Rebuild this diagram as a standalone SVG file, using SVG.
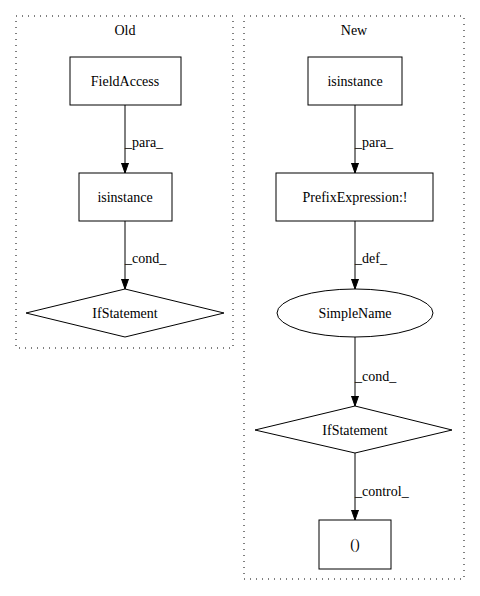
<svg xmlns="http://www.w3.org/2000/svg" width="480" height="596" viewBox="0 0 480 596">
<defs>
<marker id="ah" markerWidth="10" markerHeight="10" refX="10" refY="5" orient="auto" markerUnits="userSpaceOnUse">
<path d="M0,1.5 L10,5 L0,8.5 Z" fill="#000" stroke="#000"/>
</marker>
<style>
text{font-family:"Liberation Serif","Times New Roman",serif;font-size:14px;fill:#000}
.c{text-anchor:middle}
.n{fill:#fff;stroke:#000;stroke-width:1}
.cl{fill:none;stroke:#000;stroke-width:1;stroke-dasharray:1,5}
.e{fill:none;stroke:#000;stroke-width:1;marker-end:url(#ah)}
</style>
</defs>
<rect width="480" height="596" fill="#fff"/>
<g id="cluster_old">
<rect class="cl" x="16" y="16" width="217" height="332"/>
<text class="c" x="125" y="35">Old</text>
</g>
<g id="cluster_new">
<rect class="cl" x="244" y="16" width="220" height="563"/>
<text class="c" x="354" y="35">New</text>
</g>
<g id="connectors">
<line class="e" x1="125" y1="105" x2="125" y2="173"/>
<text x="125" y="147">_para_</text>
<line class="e" x1="125" y1="221" x2="125" y2="289"/>
<text x="125" y="263">_cond_</text>
<line class="e" x1="355" y1="105" x2="355" y2="173"/>
<text x="355" y="147">_para_</text>
<line class="e" x1="355" y1="221" x2="355" y2="289"/>
<text x="355" y="263">_def_</text>
<line class="e" x1="355" y1="337" x2="355" y2="406"/>
<text x="355" y="381">_cond_</text>
<line class="e" x1="355" y1="453" x2="355" y2="520"/>
<text x="355" y="496">_control_</text>
</g>
<g id="old_fieldaccess">
<rect class="n" x="70" y="57" width="111" height="48"/>
<text class="c" x="125" y="86">FieldAccess</text>
</g>
<g id="old_isinstance">
<rect class="n" x="79" y="173" width="93" height="48"/>
<text class="c" x="125" y="202">isinstance</text>
</g>
<g id="old_ifstatement">
<polygon class="n" points="125,289 224,313 125,337 26,313"/>
<text class="c" x="125" y="318">IfStatement</text>
</g>
<g id="new_isinstance">
<rect class="n" x="308" y="57" width="94" height="48"/>
<text class="c" x="355" y="86">isinstance</text>
</g>
<g id="new_prefix">
<rect class="n" x="276" y="173" width="157" height="48"/>
<text class="c" x="355" y="202">PrefixExpression:!</text>
</g>
<g id="new_simplename">
<ellipse class="n" cx="355" cy="313" rx="78" ry="24"/>
<text class="c" x="355" y="318">SimpleName</text>
</g>
<g id="new_ifstatement">
<polygon class="n" points="355,406 452,430 355,453 255,430"/>
<text class="c" x="355" y="435">IfStatement</text>
</g>
<g id="new_block">
<rect class="n" x="319" y="520" width="72" height="49"/>
<text class="c" x="355" y="549">()</text>
</g>
</svg>
